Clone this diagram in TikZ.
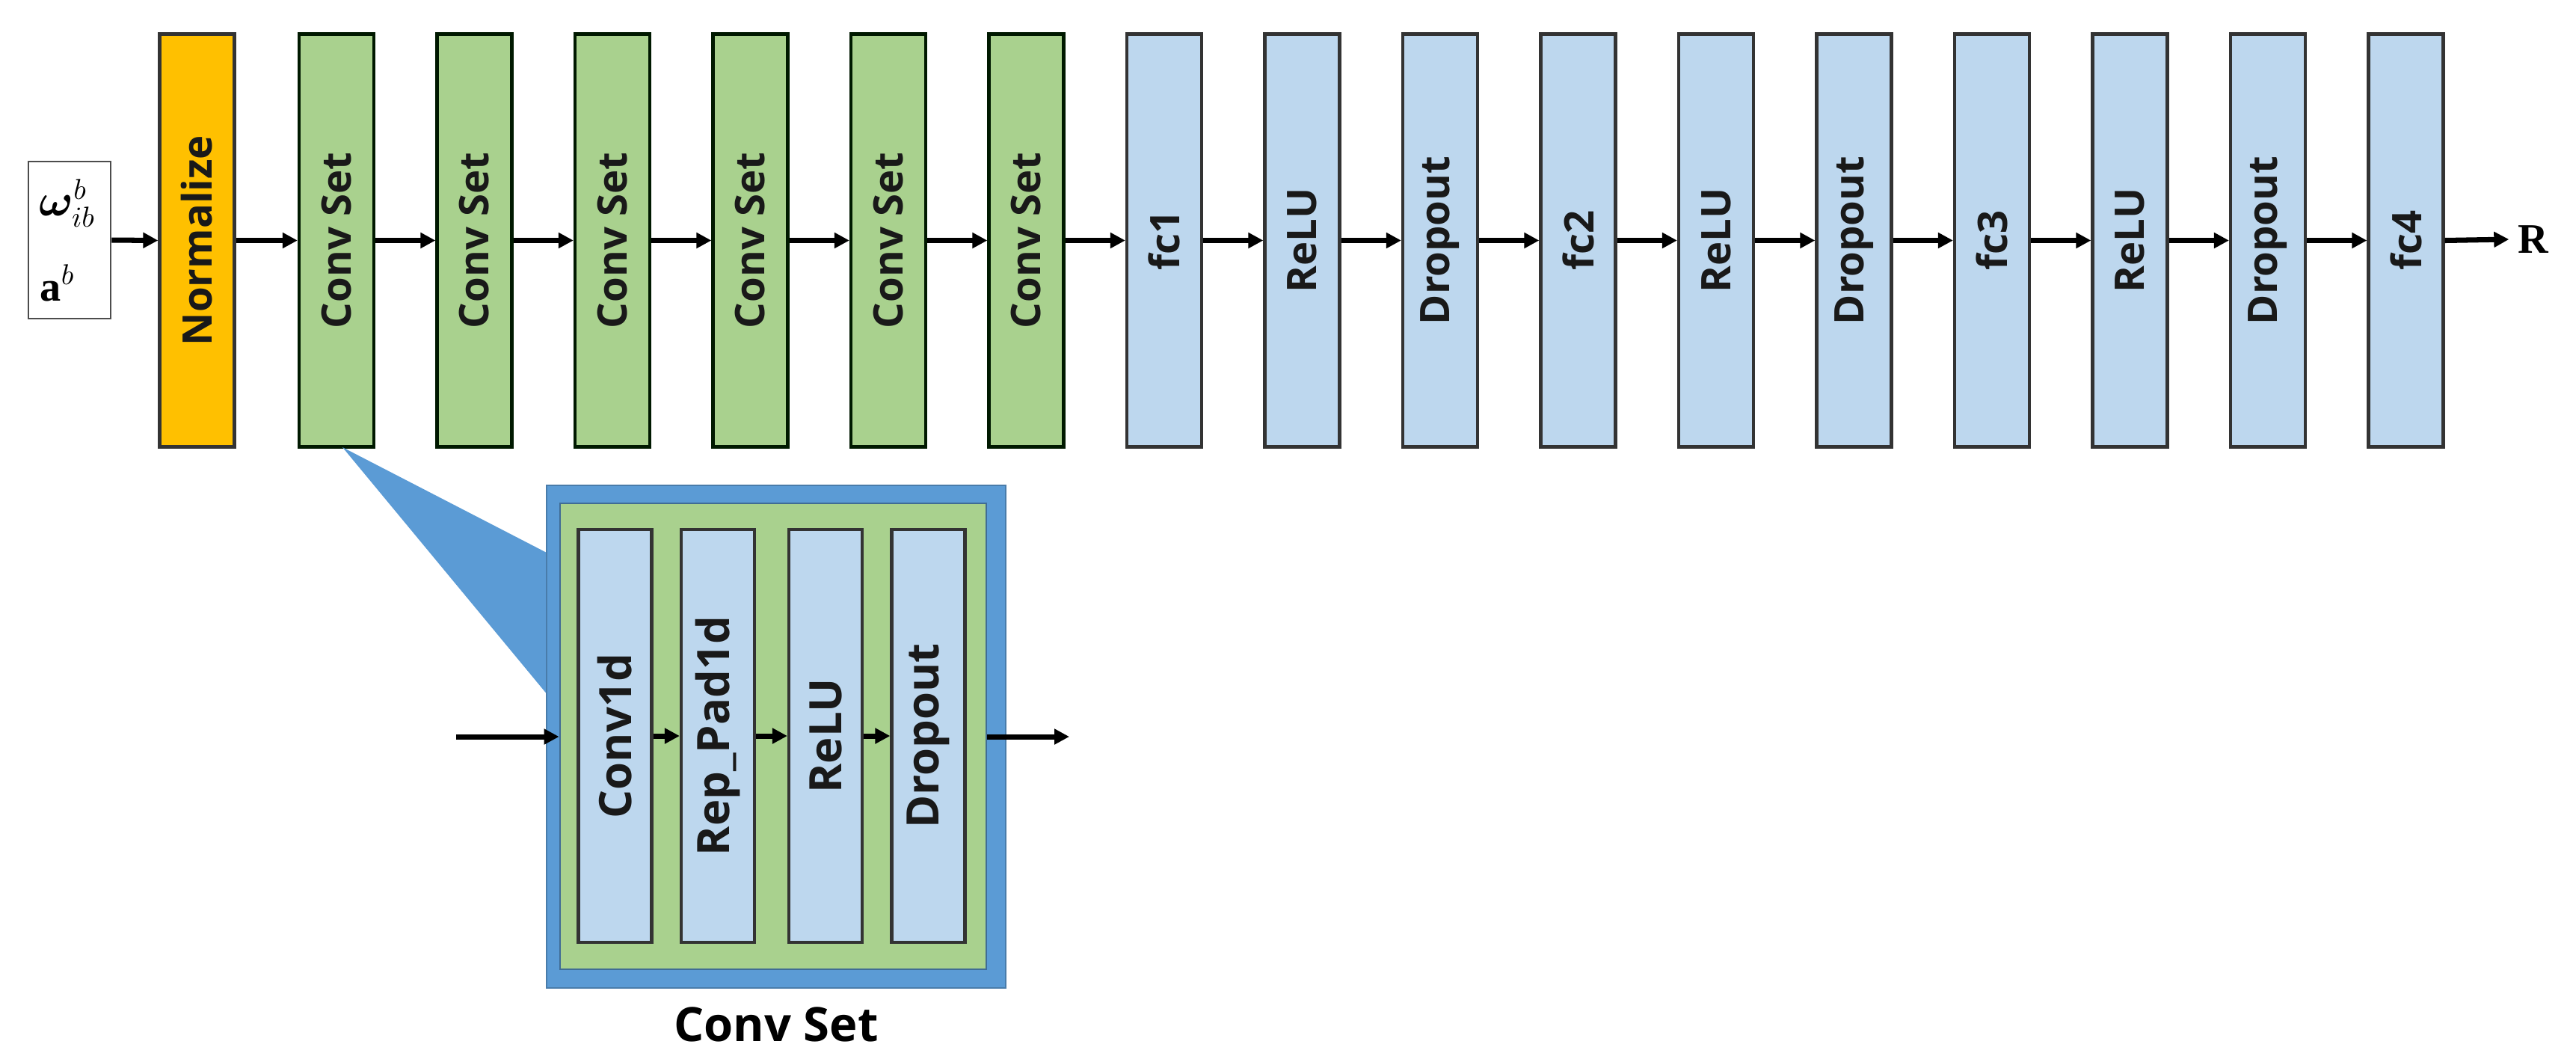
\documentclass[tikz,border=0pt]{standalone}
\usepackage{fontspec}
\usepackage{amsmath,bm}
\setmainfont{Liberation Serif}
\newfontfamily\lab{Open Sans}
\usetikzlibrary{arrows.meta}
\definecolor{org}{HTML}{FFC000}
\definecolor{grn}{HTML}{A9D18E}
\definecolor{lbl}{HTML}{BDD7EE}
\definecolor{cblue}{HTML}{5B9BD5}
\tikzset{
 blk/.style={draw=black!80,line width=1.2pt,minimum width=1cm,minimum height=5.52cm,inner sep=0pt,font=\lab\bfseries\fontsize{15.5}{15.5}\selectfont,text=black!90},
 arr/.style={-{Triangle[length=0.2cm,width=0.2cm]},line width=2pt}
}
\begin{document}
\begin{tikzpicture}[x=1cm,y=1cm]
\useasboundingbox (0,0) rectangle (34.45,-14.19);
% input
\node[draw=black!70,line width=0.8pt,minimum width=1.1cm,minimum height=2.1cm,inner sep=0pt] (in) at (0.93,-3.21) {};
\node (w) at (0.9,-2.72) {\fontsize{16}{16}\selectfont$\bm{\omega}^{b}_{ib}$};
\node (a) at (0.77,-3.78) {\fontsize{16}{16}\selectfont$\mathbf{a}^{b}$};
% top row
\node[blk,fill=org] (n0) at (2.635,-3.215) {\rotatebox{90}{Normalize}};
\foreach \i/\x in {1/4.50,2/6.345,3/8.19,4/10.035,5/11.88,6/13.725}
  \node[blk,fill=grn,draw=black!75!green!40!black] (n\i) at (\x,-3.215) {\rotatebox{90}{Conv Set}};
\foreach \i/\x/\t in {7/15.57/fc1,8/17.415/ReLU,9/19.26/Dropout,10/21.105/fc2,11/22.95/ReLU,12/24.795/Dropout,13/26.64/fc3,14/28.485/ReLU,15/30.33/Dropout,16/32.175/fc4}
  \node[blk,fill=lbl] (n\i) at (\x,-3.215) {\rotatebox{90}{\t}};
\draw[arr] (in.east) -- (n0.west);
\foreach \a/\b in {0/1,1/2,2/3,3/4,4/5,5/6,6/7,7/8,8/9,9/10,10/11,11/12,12/13,13/14,14/15,15/16}
  \draw[arr] (n\a.east) -- (n\b.west);
\node[font=\bfseries\fontsize{16}{16}\selectfont] (R) at (33.88,-3.2) {R};
\draw[arr] (n16.east) -- (R.west);
% callout
\fill[cblue] (4.58,-5.98) -- (7.33,-7.4) -- (7.33,-9.3) -- cycle;
\node[fill=cblue,draw=cblue!80!black,line width=0.8pt,minimum width=6.14cm,minimum height=6.72cm,inner sep=0pt] (outer) at (10.38,-9.85) {};
\node[fill=grn,draw=cblue!70!black,line width=0.8pt,minimum width=5.7cm,minimum height=6.23cm,inner sep=0pt] (inner) at (10.34,-9.845) {};
\foreach \i/\x/\t in {1/8.225/Conv1d,2/9.6/Rep\_Pad1d,3/11.04/ReLU,4/12.415/Dropout}
  \node[blk,fill=lbl,minimum width=0.98cm,minimum height=5.52cm,font=\lab\bfseries\fontsize{17}{17}\selectfont] (c\i) at (\x,-9.84) {\rotatebox{90}{\t}};
\coordinate (cin) at (6.1,-9.85);
\coordinate (cout) at (14.3,-9.85);
\draw[arr] (cin) -- (inner.west|-cin);
\draw[arr] (c1.east) -- (c2.west);
\draw[arr] (c2.east) -- (c3.west);
\draw[arr] (c3.east) -- (c4.west);
\draw[arr] (inner.east|-cout) -- (cout);
\node[font=\lab\bfseries\fontsize{18}{18}\selectfont] (cl) at (10.38,-13.7) {Conv Set};
\end{tikzpicture}
\end{document}
